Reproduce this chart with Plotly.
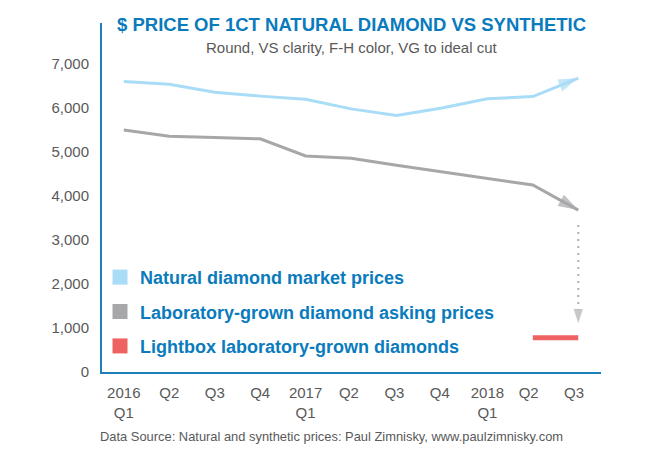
import plotly.graph_objects as go

# ---- data ----
quarters = ["2016<br>Q1", "Q2", "Q3", "Q4", "2017<br>Q1", "Q2 ", "Q3 ", "Q4 ",
            "2018<br>Q1", "Q2  ", "Q3  "]
natural = [6600, 6540, 6360, 6270, 6200, 5980, 5830, 6000, 6210, 6260, 6680]
lab_grown = [5500, 5360, 5330, 5300, 4910, 4860, 4700, 4550, 4390, 4250, 3680]
lightbox = [None] * 9 + [780, 780]
drop_x = ["Q3  ", "Q3  "]
drop_y = [3340, 1110]
y_ticks = [0, 1000, 2000, 3000, 4000, 5000, 6000, 7000]

series_names = ["Natural diamond market prices",
                "Laboratory-grown diamond asking prices",
                "Lightbox laboratory-grown diamonds"]

C_NAT = "#a9dcf6"
C_LAB = "#a7a7a9"
C_BOX = "#ef6262"
C_BLUE = "#0a7bbd"
C_AXIS = "#1f7fbb"
C_TXT = "#595959"
FONT = "Liberation Sans, Arial, sans-serif"

n = len(quarters)
fig = go.Figure()

fig.add_trace(go.Scatter(
    x=quarters, y=natural, mode="lines+markers", showlegend=False,
    line=dict(color=C_NAT, width=3),
    marker=dict(symbol="arrow", angleref="previous", color=C_NAT,
                size=[0] * (n - 1) + [21], line=dict(width=0)),
    hoverinfo="skip"))

fig.add_trace(go.Scatter(
    x=quarters, y=lab_grown, mode="lines+markers", showlegend=False,
    line=dict(color=C_LAB, width=3),
    marker=dict(symbol="arrow", angleref="previous", color=C_LAB,
                size=[0] * (n - 1) + [21], line=dict(width=0)),
    hoverinfo="skip"))

fig.add_trace(go.Scatter(
    x=quarters, y=lightbox, mode="lines", showlegend=False,
    line=dict(color=C_BOX, width=5), hoverinfo="skip"))

fig.add_trace(go.Scatter(
    x=drop_x, y=drop_y, mode="lines+markers", showlegend=False,
    line=dict(color="#b0b0b2", width=2, dash="2px,5px"),
    marker=dict(symbol="arrow", angleref="previous", color="#b0b0b2",
                size=[0, 15], line=dict(width=0)),
    hoverinfo="skip"))

# legend entries
for name, col, grp in zip(series_names, [C_NAT, C_LAB, C_BOX], ["a", "b", "c"]):
    fig.add_trace(go.Scatter(
        x=[None], y=[None], mode="markers", name=name, legendgroup=grp,
        marker=dict(symbol="square", size=15, color=col, line=dict(width=0))))

fig.update_layout(
    width=656, height=456,
    margin=dict(l=102, r=55, t=23, b=84),
    paper_bgcolor="white", plot_bgcolor="white",
    font=dict(family=FONT, color=C_TXT, size=15),
    showlegend=True,
    legend=dict(x=-0.004, y=0.324, xanchor="left", yanchor="top",
                bgcolor="rgba(0,0,0,0)", traceorder="grouped",
                tracegroupgap=8, itemwidth=30,
                font=dict(family=FONT, size=18, color=C_BLUE, weight="bold")),
    xaxis=dict(type="category", categoryorder="array", categoryarray=quarters,
               range=[-0.48, 10.5], showline=True, linecolor=C_AXIS,
               linewidth=2, showgrid=False, zeroline=False, ticks="",
               tickfont=dict(size=15, color=C_TXT), ticklabelstandoff=6),
    yaxis=dict(range=[0, 7932], tickvals=y_ticks, tickformat=",",
               showline=True, linecolor=C_AXIS, linewidth=2, showgrid=False,
               zeroline=False, ticks="", ticklabelstandoff=8,
               tickfont=dict(size=15, color=C_TXT)),
    annotations=[
        dict(text="<b>$ PRICE OF 1CT NATURAL DIAMOND VS SYNTHETIC</b>",
             xref="paper", yref="paper", x=0.5, y=0.995, xanchor="center",
             yanchor="middle", showarrow=False,
             font=dict(family=FONT, size=18.5, color=C_BLUE)),
        dict(text="Round, VS clarity, F-H color, VG to ideal cut",
             xref="paper", yref="paper", x=0.5, y=0.931, xanchor="center",
             yanchor="middle", showarrow=False,
             font=dict(family=FONT, size=15, color=C_TXT)),
        dict(text="Data Source: Natural and synthetic prices: Paul Zimnisky, www.paulzimnisky.com",
             xref="paper", yref="paper", x=-0.008, y=-0.186, xanchor="left",
             yanchor="middle", showarrow=False,
             font=dict(family=FONT, size=12.9, color=C_TXT)),
    ],
)

fig.write_html("out.html")
